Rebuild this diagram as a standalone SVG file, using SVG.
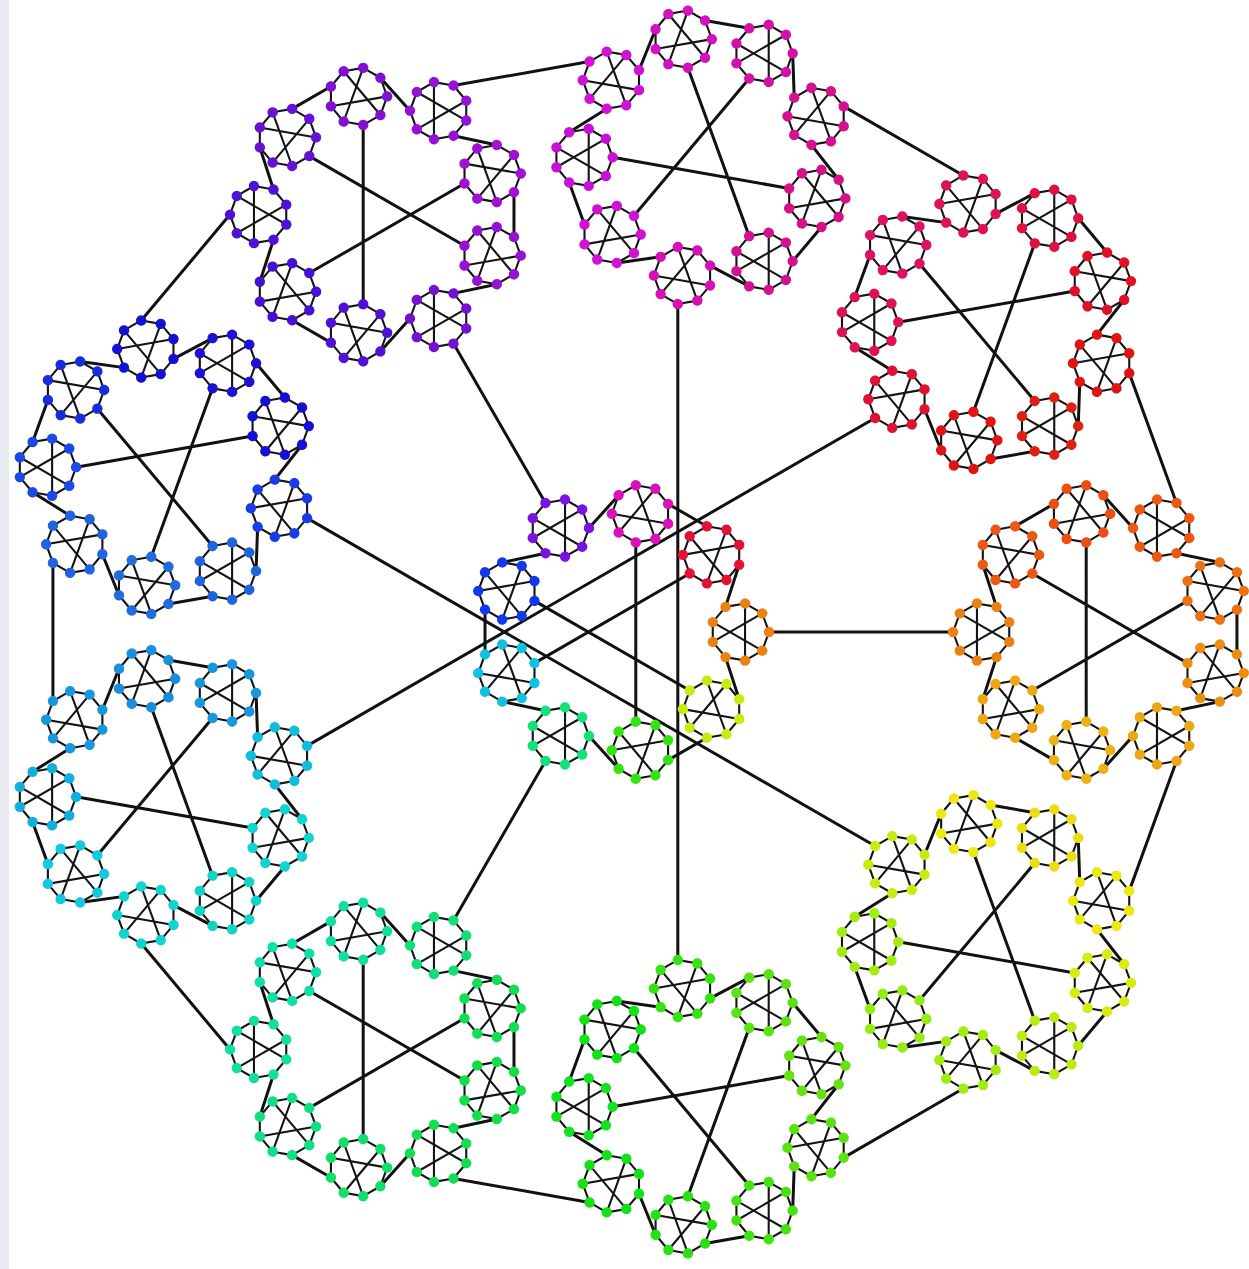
<svg xmlns="http://www.w3.org/2000/svg" width="1249" height="1269" viewBox="0 0 1249 1269">
<style>
.lk{stroke:#111;stroke-width:3;stroke-linecap:round;fill:none}
.ul{stroke:#141414;stroke-width:2.1;fill:none;stroke-linejoin:round}
.nd{fill:currentColor}
</style>
<defs>
<g id="U">
<polygon class="ul" points="29,0 22.21,18.64 5.04,28.56 -14.5,25.11 -27.25,9.92 -27.25,-9.92 -14.5,-25.11 5.04,-28.56 22.21,-18.64"/>
<path class="ul" d="M22.21,18.64L-27.25,-9.92M-27.25,9.92L22.21,-18.64M5.04,-28.56L5.04,28.56"/>
<g class="nd">
<circle cx="29" cy="0" r="5.2"/>
<circle cx="22.21" cy="18.64" r="5.2"/>
<circle cx="5.04" cy="28.56" r="5.2"/>
<circle cx="-14.5" cy="25.11" r="5.2"/>
<circle cx="-27.25" cy="9.92" r="5.2"/>
<circle cx="-27.25" cy="-9.92" r="5.2"/>
<circle cx="-14.5" cy="-25.11" r="5.2"/>
<circle cx="5.04" cy="-28.56" r="5.2"/>
<circle cx="22.21" cy="-18.64" r="5.2"/>
</g>
</g>
<g id="KL">
<path class="lk" d="M105.5,25.11L119.17,67.22M86.88,105.7L48.09,128.1M-1.37,136.82L-31,103.92M-74.5,78.81L-117.8,69.6M-134.97,22.4L-134.97,-22.4M-117.8,-69.6L-74.5,-78.81M-31,-103.92L-1.37,-136.82M48.09,-128.1L86.88,-105.7M119.17,-67.22L105.5,-25.11"/>
<path class="lk" d="M69.71,58.49L-85.51,-31.12M-85.51,31.12L69.71,-58.49M15.8,-89.62L15.8,89.62"/>
</g>
</defs>
<rect x="0" y="0" width="1249" height="1269" fill="#ffffff"/>
<rect x="0" y="0" width="9" height="1269" fill="#e8eaef"/>

<g id="connectors">
<path class="lk" d="M769,632L953,632"/>
<path class="lk" d="M545.5,761.04L453.5,920.38"/>
<path class="lk" d="M545.5,502.96L453.5,343.62"/>
<path class="lk" d="M875.1,846.05L307.08,518.12"/>
<path class="lk" d="M307.08,745.88L875.1,417.95"/>
<path class="lk" d="M677.81,304.06L677.81,959.94"/>
<path class="lk" d="M1176.5,761.04L1129.24,890.87"/>
<path class="lk" d="M963.36,1088.57L843.69,1157.64"/>
<path class="lk" d="M589.54,1202.46L453.5,1178.46"/>
<path class="lk" d="M230,1049.42L141.2,943.58"/>
<path class="lk" d="M52.93,701.06L52.93,562.94"/>
<path class="lk" d="M141.2,320.42L230,214.58"/>
<path class="lk" d="M453.5,85.54L589.54,61.54"/>
<path class="lk" d="M843.69,106.36L963.36,175.43"/>
<path class="lk" d="M1129.24,373.13L1176.5,502.96"/>
</g>

<g id="cluster-center" transform="translate(620,632)">
<use href="#KL"/>
<use href="#U" transform="translate(120,0)" style="color:hsl(30,85%,50%)"/>
<use href="#U" transform="rotate(40) translate(120,0) rotate(180)" style="color:hsl(70,85%,50%)"/>
<use href="#U" transform="rotate(80) translate(120,0) rotate(180)" style="color:hsl(110,85%,48%)"/>
<use href="#U" transform="rotate(120) translate(120,0)" style="color:hsl(150,85%,48%)"/>
<use href="#U" transform="rotate(160) translate(120,0) rotate(180)" style="color:hsl(190,85%,48%)"/>
<use href="#U" transform="rotate(200) translate(120,0) rotate(180)" style="color:hsl(230,85%,50%)"/>
<use href="#U" transform="rotate(240) translate(120,0)" style="color:hsl(270,85%,48%)"/>
<use href="#U" transform="rotate(280) translate(120,0) rotate(180)" style="color:hsl(310,85%,46%)"/>
<use href="#U" transform="rotate(320) translate(120,0) rotate(180)" style="color:hsl(350,85%,48%)"/>
</g>

<g id="cluster-orange" transform="translate(1102,632) rotate(180)">
<use href="#KL"/>
<use href="#U" transform="translate(120,0)" style="color:hsl(30,85%,50%)"/>
<use href="#U" transform="rotate(40) translate(120,0) rotate(180)" style="color:hsl(19,85%,50%)"/>
<use href="#U" transform="rotate(80) translate(120,0) rotate(180)" style="color:hsl(16,85%,50%)"/>
<use href="#U" transform="rotate(120) translate(120,0)" style="color:hsl(19,85%,50%)"/>
<use href="#U" transform="rotate(160) translate(120,0) rotate(180)" style="color:hsl(26,85%,50%)"/>
<use href="#U" transform="rotate(200) translate(120,0) rotate(180)" style="color:hsl(34,85%,50%)"/>
<use href="#U" transform="rotate(240) translate(120,0)" style="color:hsl(41,85%,50%)"/>
<use href="#U" transform="rotate(280) translate(120,0) rotate(180)" style="color:hsl(44,85%,50%)"/>
<use href="#U" transform="rotate(320) translate(120,0) rotate(180)" style="color:hsl(41,85%,50%)"/>
</g>

<g id="cluster-yellowgreen" transform="translate(989.23,941.83) rotate(220)">
<use href="#KL"/>
<use href="#U" transform="translate(120,0)" style="color:hsl(70,85%,50%)"/>
<use href="#U" transform="rotate(40) translate(120,0) rotate(180)" style="color:hsl(59,85%,50%)"/>
<use href="#U" transform="rotate(80) translate(120,0) rotate(180)" style="color:hsl(56,85%,50%)"/>
<use href="#U" transform="rotate(120) translate(120,0)" style="color:hsl(59,85%,50%)"/>
<use href="#U" transform="rotate(160) translate(120,0) rotate(180)" style="color:hsl(66,85%,50%)"/>
<use href="#U" transform="rotate(200) translate(120,0) rotate(180)" style="color:hsl(74,85%,50%)"/>
<use href="#U" transform="rotate(240) translate(120,0)" style="color:hsl(81,85%,50%)"/>
<use href="#U" transform="rotate(280) translate(120,0) rotate(180)" style="color:hsl(84,85%,50%)"/>
<use href="#U" transform="rotate(320) translate(120,0) rotate(180)" style="color:hsl(81,85%,50%)"/>
</g>

<g id="cluster-green" transform="translate(703.68,1106.68) rotate(260)">
<use href="#KL"/>
<use href="#U" transform="translate(120,0)" style="color:hsl(110,85%,48%)"/>
<use href="#U" transform="rotate(40) translate(120,0) rotate(180)" style="color:hsl(99,85%,48%)"/>
<use href="#U" transform="rotate(80) translate(120,0) rotate(180)" style="color:hsl(96,85%,48%)"/>
<use href="#U" transform="rotate(120) translate(120,0)" style="color:hsl(99,85%,48%)"/>
<use href="#U" transform="rotate(160) translate(120,0) rotate(180)" style="color:hsl(106,85%,48%)"/>
<use href="#U" transform="rotate(200) translate(120,0) rotate(180)" style="color:hsl(114,85%,48%)"/>
<use href="#U" transform="rotate(240) translate(120,0)" style="color:hsl(121,85%,48%)"/>
<use href="#U" transform="rotate(280) translate(120,0) rotate(180)" style="color:hsl(124,85%,48%)"/>
<use href="#U" transform="rotate(320) translate(120,0) rotate(180)" style="color:hsl(121,85%,48%)"/>
</g>

<g id="cluster-teal" transform="translate(379,1049.42) rotate(300)">
<use href="#KL"/>
<use href="#U" transform="translate(120,0)" style="color:hsl(150,85%,47%)"/>
<use href="#U" transform="rotate(40) translate(120,0) rotate(180)" style="color:hsl(139,85%,47%)"/>
<use href="#U" transform="rotate(80) translate(120,0) rotate(180)" style="color:hsl(136,85%,47%)"/>
<use href="#U" transform="rotate(120) translate(120,0)" style="color:hsl(139,85%,47%)"/>
<use href="#U" transform="rotate(160) translate(120,0) rotate(180)" style="color:hsl(146,85%,47%)"/>
<use href="#U" transform="rotate(200) translate(120,0) rotate(180)" style="color:hsl(154,85%,47%)"/>
<use href="#U" transform="rotate(240) translate(120,0)" style="color:hsl(161,85%,47%)"/>
<use href="#U" transform="rotate(280) translate(120,0) rotate(180)" style="color:hsl(164,85%,47%)"/>
<use href="#U" transform="rotate(320) translate(120,0) rotate(180)" style="color:hsl(161,85%,47%)"/>
</g>

<g id="cluster-cyan" transform="translate(167.07,796.84) rotate(340)">
<use href="#KL"/>
<use href="#U" transform="translate(120,0)" style="color:hsl(190,85%,47%)"/>
<use href="#U" transform="rotate(40) translate(120,0) rotate(180)" style="color:hsl(179,85%,45%)"/>
<use href="#U" transform="rotate(80) translate(120,0) rotate(180)" style="color:hsl(176,85%,45%)"/>
<use href="#U" transform="rotate(120) translate(120,0)" style="color:hsl(179,85%,45%)"/>
<use href="#U" transform="rotate(160) translate(120,0) rotate(180)" style="color:hsl(186,85%,47%)"/>
<use href="#U" transform="rotate(200) translate(120,0) rotate(180)" style="color:hsl(194,85%,47%)"/>
<use href="#U" transform="rotate(240) translate(120,0)" style="color:hsl(201,80%,48%)"/>
<use href="#U" transform="rotate(280) translate(120,0) rotate(180)" style="color:hsl(204,80%,48%)"/>
<use href="#U" transform="rotate(320) translate(120,0) rotate(180)" style="color:hsl(201,80%,48%)"/>
</g>

<g id="cluster-blue" transform="translate(167.07,467.16) rotate(20)">
<use href="#KL"/>
<use href="#U" transform="translate(120,0)" style="color:hsl(230,80%,50%)"/>
<use href="#U" transform="rotate(40) translate(120,0) rotate(180)" style="color:hsl(219,75%,50%)"/>
<use href="#U" transform="rotate(80) translate(120,0) rotate(180)" style="color:hsl(216,75%,50%)"/>
<use href="#U" transform="rotate(120) translate(120,0)" style="color:hsl(219,75%,50%)"/>
<use href="#U" transform="rotate(160) translate(120,0) rotate(180)" style="color:hsl(226,80%,50%)"/>
<use href="#U" transform="rotate(200) translate(120,0) rotate(180)" style="color:hsl(234,80%,48%)"/>
<use href="#U" transform="rotate(240) translate(120,0)" style="color:hsl(241,85%,45%)"/>
<use href="#U" transform="rotate(280) translate(120,0) rotate(180)" style="color:hsl(244,85%,45%)"/>
<use href="#U" transform="rotate(320) translate(120,0) rotate(180)" style="color:hsl(241,85%,45%)"/>
</g>

<g id="cluster-purple" transform="translate(379,214.58) rotate(60)">
<use href="#KL"/>
<use href="#U" transform="translate(120,0)" style="color:hsl(270,85%,45%)"/>
<use href="#U" transform="rotate(40) translate(120,0) rotate(180)" style="color:hsl(259,85%,45%)"/>
<use href="#U" transform="rotate(80) translate(120,0) rotate(180)" style="color:hsl(256,85%,45%)"/>
<use href="#U" transform="rotate(120) translate(120,0)" style="color:hsl(259,85%,45%)"/>
<use href="#U" transform="rotate(160) translate(120,0) rotate(180)" style="color:hsl(266,85%,45%)"/>
<use href="#U" transform="rotate(200) translate(120,0) rotate(180)" style="color:hsl(274,85%,45%)"/>
<use href="#U" transform="rotate(240) translate(120,0)" style="color:hsl(281,85%,45%)"/>
<use href="#U" transform="rotate(280) translate(120,0) rotate(180)" style="color:hsl(284,85%,45%)"/>
<use href="#U" transform="rotate(320) translate(120,0) rotate(180)" style="color:hsl(281,85%,45%)"/>
</g>

<g id="cluster-magenta" transform="translate(703.68,157.32) rotate(100)">
<use href="#KL"/>
<use href="#U" transform="translate(120,0)" style="color:hsl(310,85%,45%)"/>
<use href="#U" transform="rotate(40) translate(120,0) rotate(180)" style="color:hsl(299,85%,45%)"/>
<use href="#U" transform="rotate(80) translate(120,0) rotate(180)" style="color:hsl(296,85%,45%)"/>
<use href="#U" transform="rotate(120) translate(120,0)" style="color:hsl(299,85%,45%)"/>
<use href="#U" transform="rotate(160) translate(120,0) rotate(180)" style="color:hsl(306,85%,45%)"/>
<use href="#U" transform="rotate(200) translate(120,0) rotate(180)" style="color:hsl(314,85%,45%)"/>
<use href="#U" transform="rotate(240) translate(120,0)" style="color:hsl(321,85%,45%)"/>
<use href="#U" transform="rotate(280) translate(120,0) rotate(180)" style="color:hsl(324,85%,45%)"/>
<use href="#U" transform="rotate(320) translate(120,0) rotate(180)" style="color:hsl(321,85%,45%)"/>
</g>

<g id="cluster-red" transform="translate(989.23,322.17) rotate(140)">
<use href="#KL"/>
<use href="#U" transform="translate(120,0)" style="color:hsl(350,85%,47%)"/>
<use href="#U" transform="rotate(40) translate(120,0) rotate(180)" style="color:hsl(339,85%,47%)"/>
<use href="#U" transform="rotate(80) translate(120,0) rotate(180)" style="color:hsl(336,85%,47%)"/>
<use href="#U" transform="rotate(120) translate(120,0)" style="color:hsl(339,85%,47%)"/>
<use href="#U" transform="rotate(160) translate(120,0) rotate(180)" style="color:hsl(346,85%,47%)"/>
<use href="#U" transform="rotate(200) translate(120,0) rotate(180)" style="color:hsl(354,85%,47%)"/>
<use href="#U" transform="rotate(240) translate(120,0)" style="color:hsl(1,85%,47%)"/>
<use href="#U" transform="rotate(280) translate(120,0) rotate(180)" style="color:hsl(4,85%,47%)"/>
<use href="#U" transform="rotate(320) translate(120,0) rotate(180)" style="color:hsl(1,85%,47%)"/>
</g>
</svg>
